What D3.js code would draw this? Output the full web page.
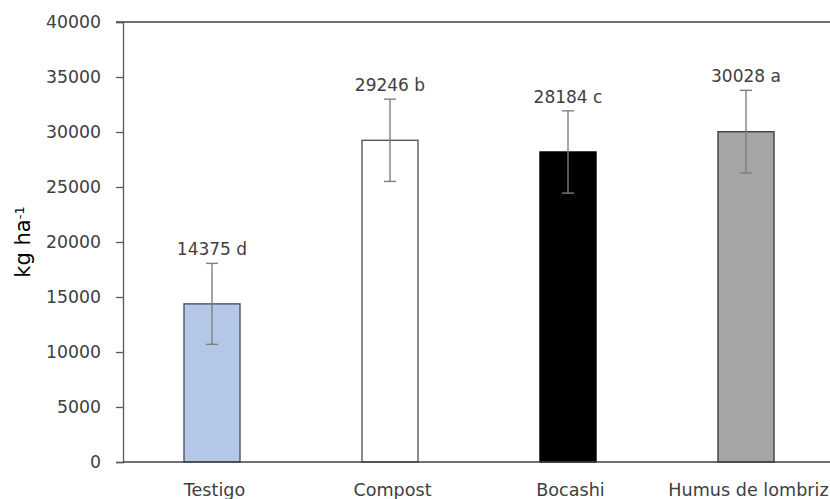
<!DOCTYPE html>
<html>
<head>
<meta charset="utf-8">
<script src="https://cdn.jsdelivr.net/npm/d3@7"></script>
<style>
  body { margin: 0; background: #fff; }
  svg { display: block; font-family: "DejaVu Sans", sans-serif; }
  svg text { font-family: "DejaVu Sans", sans-serif; }
</style>
</head>
<body>
<div id="chart"></div>
<script>
// data
var categories = ["Testigo", "Compost", "Bocashi", "Humus de lombriz"]
var values = [14375, 29246, 28184, 30028]
var errors = [3680, 3740, 3740, 3760]
var letters = ["d", "b", "c", "a"]
var yTicks = [0, 5000, 10000, 15000, 20000, 25000, 30000, 35000, 40000]

var fills = ["#b4c7e7", "#ffffff", "#000000", "#a5a5a5"]
var strokes = ["#4a5566", "#595959", "#000000", "#404040"]

var W = 830, H = 499
var margin = {top: 22, left: 123, bottom: 37}
var plotRight = 835

var svg = d3.select("#chart").append("svg")
  .attr("width", W)
  .attr("height", H)

var x = d3.scalePoint()
  .domain(categories)
  .range([margin.left, plotRight])
  .padding(0.5)

var y = d3.scaleLinear()
  .domain([0, 40000])
  .range([H - margin.bottom, margin.top])

var barW = 56

// top border line
svg.append("line")
  .attr("x1", margin.left - 7).attr("x2", W)
  .attr("y1", y(40000)).attr("y2", y(40000))
  .attr("stroke", "#404040").attr("stroke-width", 1.3)

// y axis
var yAxis = svg.append("g")
  .attr("transform", "translate(" + margin.left + ",0)")
  .call(d3.axisLeft(y).tickValues(yTicks).tickSize(7).tickPadding(15).tickFormat(d3.format("d")))
yAxis.attr("font-family", null)
yAxis.select(".domain").attr("stroke", "#595959").attr("stroke-width", 1.3)
yAxis.selectAll(".tick line").attr("stroke", "#595959").attr("stroke-width", 1.3)
yAxis.selectAll("text")
  .attr("fill", "#404040")
  .style("font-size", "17.3px")

// bars
svg.selectAll("rect.bar")
  .data(values)
  .enter()
  .append("rect")
  .attr("class", "bar")
  .attr("x", (d, i) => x(categories[i]) - barW / 2)
  .attr("y", d => y(d))
  .attr("width", barW)
  .attr("height", d => y(0) - y(d))
  .attr("fill", (d, i) => fills[i])
  .attr("stroke", (d, i) => strokes[i])
  .attr("stroke-width", 1.4)

// x axis (drawn after bars so the base line sits on top)
var xAxis = svg.append("g")
  .attr("transform", "translate(0," + y(0) + ")")
  .call(d3.axisBottom(x).tickSize(0).tickPadding(22))
xAxis.attr("font-family", null)
xAxis.select(".domain").attr("stroke", "#404040").attr("stroke-width", 1.3)
  .attr("d", "M" + margin.left + ",0H" + W)
xAxis.selectAll("text")
  .attr("fill", "#404040")
  .attr("dx", 2)
  .style("font-size", "17.6px")

// error bars
var capW = 12
var eb = svg.selectAll("g.err")
  .data(values)
  .enter()
  .append("g")
  .attr("class", "err")
  .attr("stroke", "#7f7f7f")
  .attr("stroke-width", 1.4)

eb.append("line")
  .attr("x1", (d, i) => x(categories[i]))
  .attr("x2", (d, i) => x(categories[i]))
  .attr("y1", (d, i) => y(d + errors[i]))
  .attr("y2", (d, i) => y(d - errors[i]))
eb.append("line")
  .attr("x1", (d, i) => x(categories[i]) - capW / 2)
  .attr("x2", (d, i) => x(categories[i]) + capW / 2)
  .attr("y1", (d, i) => y(d + errors[i]))
  .attr("y2", (d, i) => y(d + errors[i]))
eb.append("line")
  .attr("x1", (d, i) => x(categories[i]) - capW / 2)
  .attr("x2", (d, i) => x(categories[i]) + capW / 2)
  .attr("y1", (d, i) => y(d - errors[i]))
  .attr("y2", (d, i) => y(d - errors[i]))

// value labels
svg.selectAll("text.val")
  .data(values)
  .enter()
  .append("text")
  .attr("class", "val")
  .attr("x", (d, i) => x(categories[i]))
  .attr("y", (d, i) => y(d + errors[i]) - 8)
  .attr("text-anchor", "middle")
  .attr("fill", "#404040")
  .style("font-size", "17px")
  .text((d, i) => d + " " + letters[i])

// y axis title
var title = svg.append("text")
  .attr("transform", "translate(30," + ((y(0) + y(40000)) / 2) + ") rotate(-90)")
  .attr("text-anchor", "middle")
  .attr("fill", "#000")
  .style("font-size", "21px")
title.append("tspan").text("kg ha")
title.append("tspan")
  .attr("dy", "-0.5em")
  .style("font-size", "13px")
  .text("-1")
</script>
</body>
</html>
